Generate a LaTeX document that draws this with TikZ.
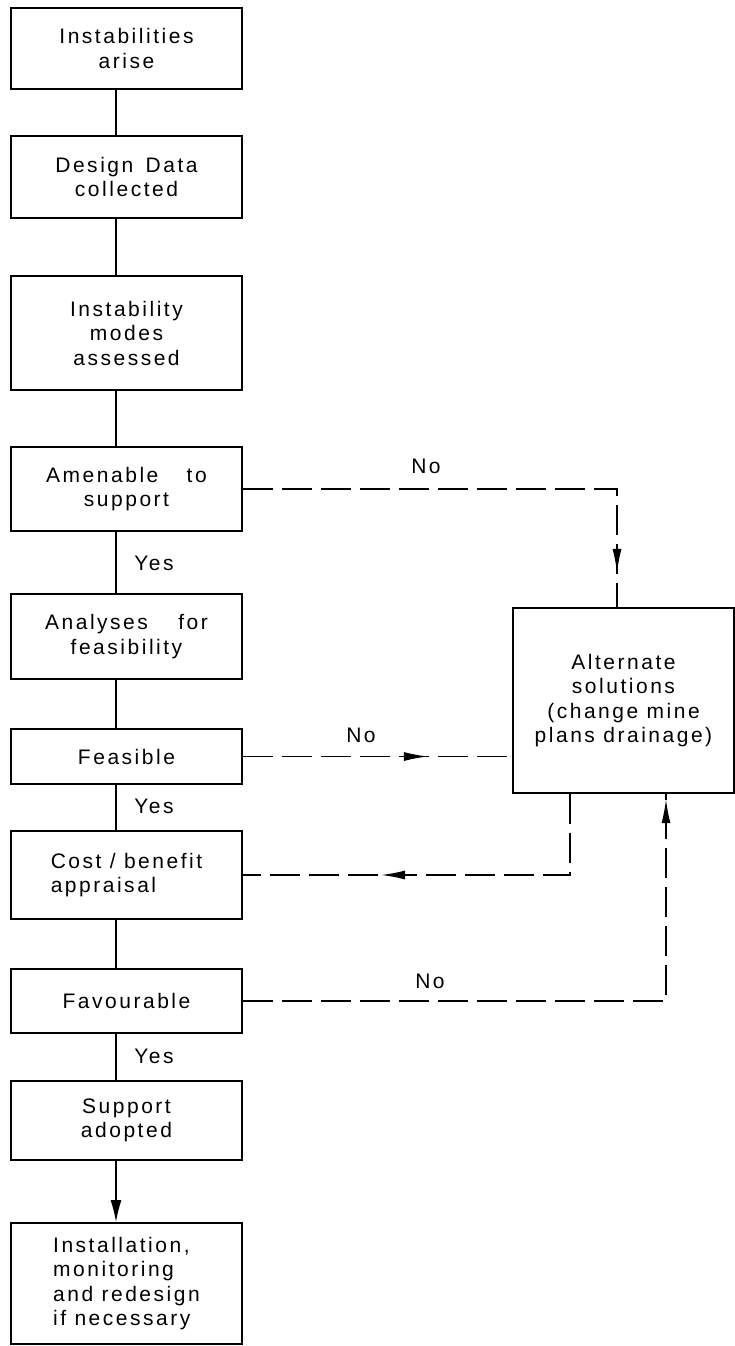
\documentclass[tikz,border=0pt]{standalone}
\usepackage{fontspec}
\setmainfont{Liberation Sans}[LetterSpace=12]
\usetikzlibrary{arrows.meta,decorations.markings,calc}
\tikzset{
  box/.style={draw, line width=1.8pt, inner sep=0pt, align=center, font=\fontsize{21}{24.5}\selectfont},
  lbl/.style={inner sep=0pt, font=\fontsize{21}{24}\selectfont},
  conn/.style={line width=1.5pt},
  nopath/.style={line width=1.5pt, dash pattern=on 30pt off 9pt},
}
\begin{document}
\begin{tikzpicture}[x=1pt,y=-1pt]
\useasboundingbox (0,0) rectangle (735,1346);
% left column boxes
\node[box, minimum width=231pt, minimum height=81pt] (b1) at (126.5,48.5) {Instabilities\\arise};
\node[box, minimum width=231pt, minimum height=82pt] (b2) at (126.5,177) {Design\hspace{4pt} Data\\collected};
\node[box, minimum width=231pt, minimum height=114pt] (b3) at (126.5,333) {Instability\\modes\\assessed};
\node[box, minimum width=231pt, minimum height=84pt] (b4) at (126.5,489) {Amenable\hspace{20pt} to\\support};
\node[box, minimum width=231pt, minimum height=85pt] (b5) at (126.5,636.5) {Analyses\hspace{22pt} for\\feasibility};
\node[box, minimum width=231pt, minimum height=55pt] (b6) at (126.5,756.5) {Feasible};
\node[box, minimum width=231pt, minimum height=88pt, align=left] (b7) at (126.5,875) {Cost / benefit\\appraisal};
\node[box, minimum width=231pt, minimum height=64pt] (b8) at (126.5,1001) {Favourable};
\node[box, minimum width=231pt, minimum height=79pt] (b9) at (126.5,1120.5) {Support\\adopted};
\node[box, minimum width=231pt, minimum height=121pt, align=left] (b10) at (126.5,1283.5) {Installation,\\monitoring\\and redesign\\if necessary};
% right box
\node[box, minimum width=221pt, minimum height=185pt] (alt) at (623.5,700.5) {Alternate\\solutions\\(change mine\\plans drainage)};
% guide coordinates
\coordinate (lx) at (116,0);
\coordinate (c1) at (617,0);
\coordinate (c2) at (570,0);
\coordinate (c3) at (666,0);
% solid connectors
\draw[conn] (b1.south -| lx) -- (b2.north -| lx);
\draw[conn] (b2.south -| lx) -- (b3.north -| lx);
\draw[conn] (b3.south -| lx) -- (b4.north -| lx);
\draw[conn] (b4.south -| lx) -- (b5.north -| lx);
\draw[conn] (b5.south -| lx) -- (b6.north -| lx);
\draw[conn] (b6.south -| lx) -- (b7.north -| lx);
\draw[conn] (b7.south -| lx) -- (b8.north -| lx);
\draw[conn] (b8.south -| lx) -- (b9.north -| lx);
\draw[conn, -{Latex[length=22pt,width=11pt]}] (b9.south -| lx) -- (b10.north -| lx);
% dashed connectors
\draw[nopath, postaction={decorate}, decoration={markings, mark=at position 458pt with {\arrow{Latex[length=24pt,width=9pt]}}}]
  (b4.east) -| (alt.north -| c1);
\draw[nopath, postaction={decorate}, decoration={markings, mark=at position 185pt with {\arrow{Latex[length=24pt,width=9pt]}}}]
  (b6.east) -- (alt.west |- b6.east);
\draw[nopath, postaction={decorate}, decoration={markings, mark=at position 270pt with {\arrow{Latex[length=24pt,width=9pt]}}}]
  (alt.south -| c2) |- (b7.east);
\draw[nopath, postaction={decorate}, decoration={markings, mark=at position 625pt with {\arrow{Latex[length=24pt,width=9pt]}}}]
  (b8.east) -| (alt.south -| c3);
% labels
\node[lbl] (y1) at (154,563) {Yes};
\node[lbl] (y2) at (154,806) {Yes};
\node[lbl] (y3) at (154,1056) {Yes};
\node[lbl] (n1) at (426,466) {No};
\node[lbl] (n2) at (361,735) {No};
\node[lbl] (n3) at (430,981) {No};
\end{tikzpicture}
\end{document}
